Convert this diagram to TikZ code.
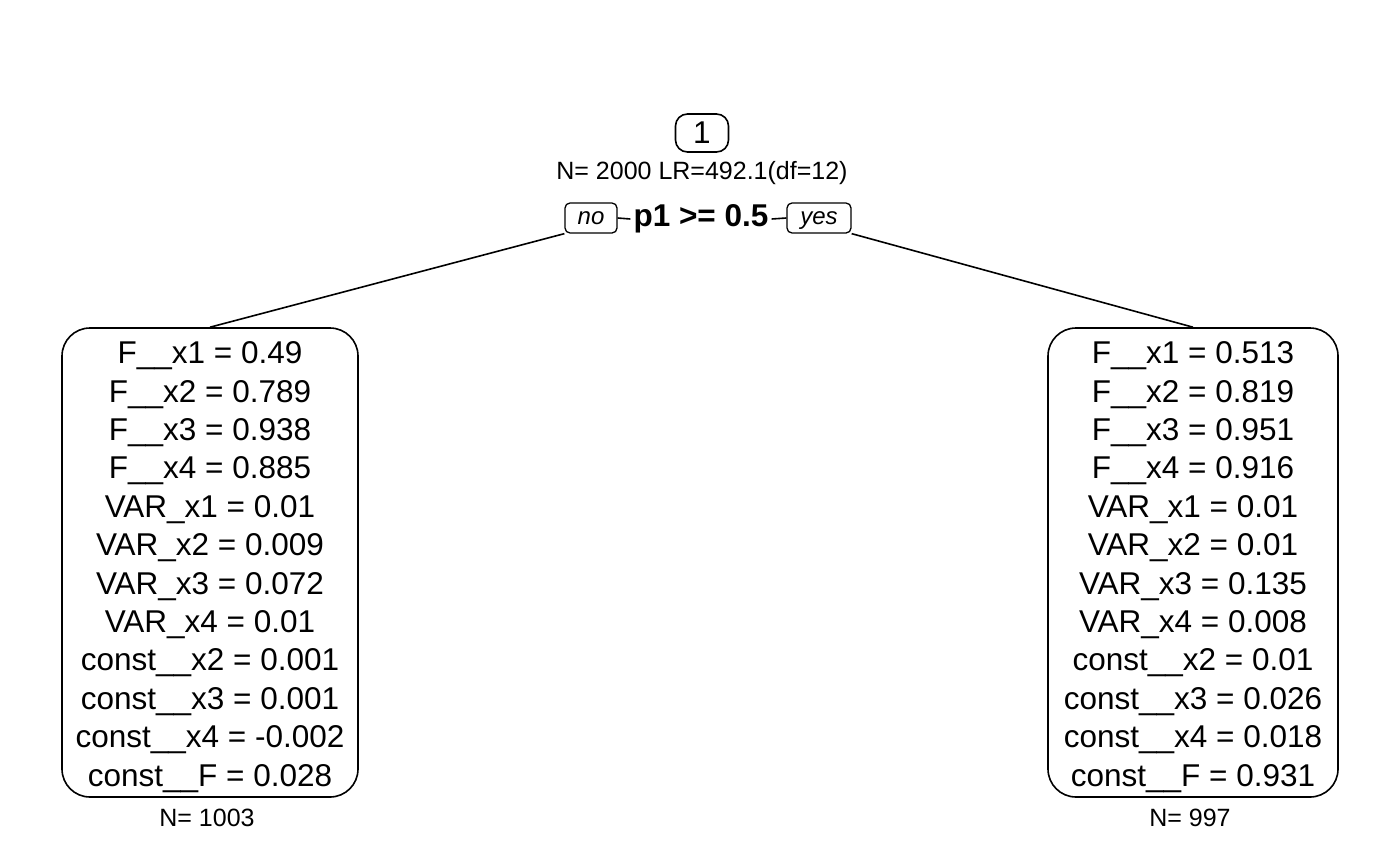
\documentclass[tikz,border=0pt]{standalone}
\usepackage{fontspec}
\setmainfont{Liberation Sans}
\usetikzlibrary{positioning}

\begin{document}
\begin{tikzpicture}[x=1pt,y=-1pt]
    \tikzset{leaf/.style={draw, line width=1.6pt,
                rounded corners=28pt,
                minimum width=296pt, minimum height=469pt,
                inner sep=0pt},
             leaftext/.style={align=center, inner sep=0pt,
                font=\fontsize{31.5}{38.4}\selectfont},
             tag/.style={draw, line width=1.3pt,
                rounded corners=5pt, inner sep=0pt,
                minimum height=30pt, text height=17pt, text depth=5pt,
                font=\fontsize{24}{28}\selectfont\itshape},
             info/.style={font=\fontsize{25}{30}\selectfont},
             edge/.style={line width=1.6pt}}
    \useasboundingbox (0,0) rectangle (1400,865);
    \node[draw, line width=1.6pt, rounded corners=12pt,
          minimum width=53pt, minimum height=38pt, inner sep=0pt,
          font=\fontsize{31.5}{36}\selectfont] (root) at (702,133) {1};
    \node[info] (stat) at (702,173) {N= 2000 LR=492.1(df=12)};
    \node[font=\fontsize{31.5}{36}\selectfont\bfseries, inner xsep=3pt]
          (split) at (701,219) {p1 >= 0.5};
    \node[tag, minimum width=52pt] (no) at (591,218) {no};
    \node[tag, minimum width=64pt] (yes) at (819,218) {yes};
    \node[leaf] (L) at (210,562.5) {};
    \node[leaftext] (Ltext) at ([yshift=-4.5pt]L.center) {F\_\_x1 = 0.49\\
        F\_\_x2 = 0.789\\F\_\_x3 = 0.938\\F\_\_x4 = 0.885\\
        VAR\_x1 = 0.01\\VAR\_x2 = 0.009\\VAR\_x3 = 0.072\\
        VAR\_x4 = 0.01\\const\_\_x2 = 0.001\\const\_\_x3 = 0.001\\
        const\_\_x4 = -0.002\\const\_\_F = 0.028};
    \node[leaf, minimum width=290pt] (R) at (1193,562.5) {};
    \node[leaftext] (Rtext) at ([yshift=-4.5pt]R.center) {F\_\_x1 = 0.513\\
        F\_\_x2 = 0.819\\F\_\_x3 = 0.951\\F\_\_x4 = 0.916\\
        VAR\_x1 = 0.01\\VAR\_x2 = 0.01\\VAR\_x3 = 0.135\\
        VAR\_x4 = 0.008\\const\_\_x2 = 0.01\\const\_\_x3 = 0.026\\
        const\_\_x4 = 0.018\\const\_\_F = 0.931};
    \node[info] (nL) at (207,818) {N= 1003};
    \node[info] (nR) at (1190,818) {N= 997};
    \draw[edge] (no.east) -- (split.west);
    \draw[edge] (split.east) -- (yes.west);
    \draw[edge] (no.south west) -- (L.north);
    \draw[edge] (yes.south east) -- (R.north);
\end{tikzpicture}
\end{document}
